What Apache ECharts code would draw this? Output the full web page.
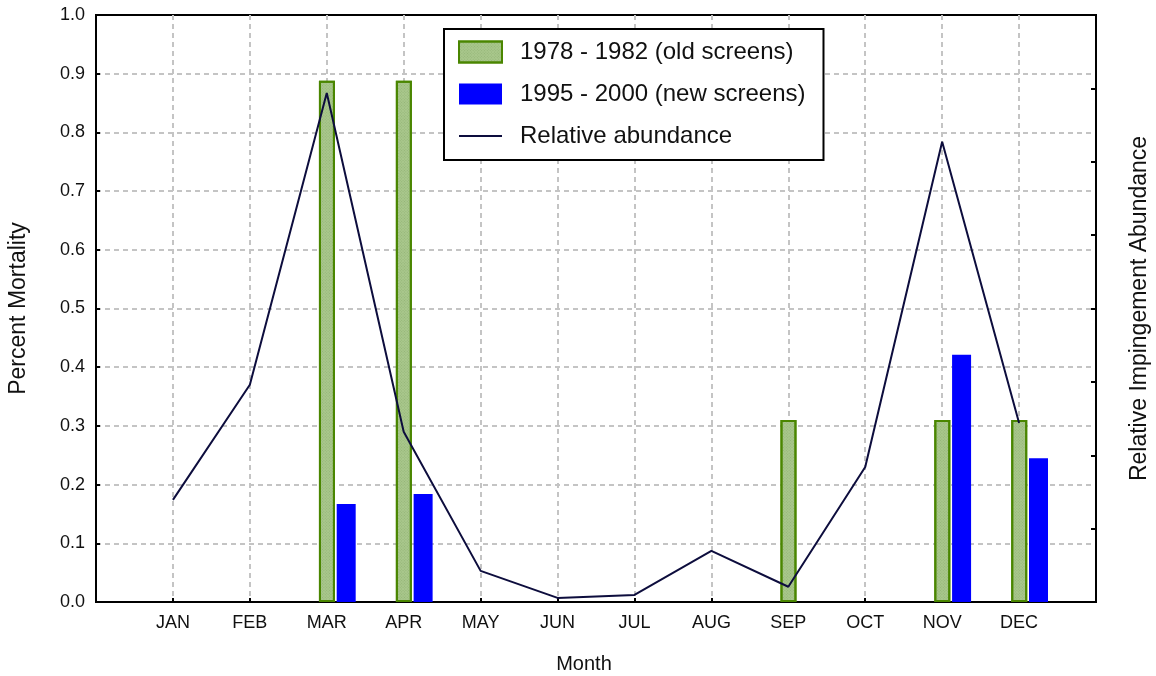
<!DOCTYPE html>
<html>
<head>
  <meta charset="utf-8">
  <title>Percent Mortality by Month</title>
  <script src="https://cdn.jsdelivr.net/npm/echarts@6/dist/echarts.min.js"></script>
  <style>
    html, body { margin: 0; padding: 0; background: #fff; }
    #chart { width: 1156px; height: 676px; }
  </style>
</head>
<body>
  <div id="chart"></div>
  <script>
    // blank slots at both ends give the padding around JAN and DEC
    var months = ['', 'JAN', 'FEB', 'MAR', 'APR', 'MAY', 'JUN', 'JUL', 'AUG', 'SEP', 'OCT', 'NOV', 'DEC', ''];
    var oldScreens = [null, null, null, 0.888, 0.888, null, null, null, null, 0.31, null, 0.31, 0.31, null];
    var newScreens = [null, null, null, 0.167, 0.184, null, null, null, null, null, null, 0.421, 0.245, null];
    var abundance = [null, 0.174, 0.37, 0.867, 0.29, 0.053, 0.007, 0.012, 0.087, 0.026, 0.23, 0.784, 0.305, null];

    var font = '"Liberation Sans", Arial, sans-serif';
    var chart = echarts.init(document.getElementById('chart'));

    chart.setOption({
      backgroundColor: '#ffffff',
      animation: false,
      grid: {
        left: 96, top: 15, right: 60, bottom: 74,
        outerBoundsMode: 'none',
        show: true, borderColor: '#000', borderWidth: 2
      },
      legend: {
        data: [
          { name: '1978 - 1982 (old screens)', icon: 'rect' },
          { name: '1995 - 2000 (new screens)', icon: 'rect' },
          // line icon only, hide the round marker
          { name: 'Relative abundance', itemStyle: { opacity: 0, color: 'rgba(0,0,0,0)', borderWidth: 0 } }
        ],
        orient: 'vertical',
        left: 444, top: 29,
        padding: [11, 18, 12, 14],
        itemWidth: 43, itemHeight: 21, itemGap: 18,
        backgroundColor: '#fff',
        borderColor: '#000', borderWidth: 2, borderRadius: 0,
        textStyle: { fontFamily: font, fontSize: 24, color: '#111', padding: [0, 0, 0, 13], lineHeight: 21 }
      },
      xAxis: {
        type: 'category',
        data: months,
        boundaryGap: false,
        name: 'Month',
        nameLocation: 'middle',
        nameGap: 52,
        nameTextStyle: { fontFamily: font, fontSize: 20, color: '#111', padding: [0, 24, 0, 0] },
        axisLine: { lineStyle: { color: '#000', width: 2 } },
        axisTick: { inside: true, length: 4, lineStyle: { color: '#000', width: 2 } },
        axisLabel: { fontFamily: font, fontSize: 18, color: '#111', margin: 12, interval: 0 },
        splitLine: { show: true, showMinLine: false, showMaxLine: false, lineStyle: { color: '#c4c4c4', width: 2, type: [5, 4] } }
      },
      yAxis: [{
        type: 'value',
        min: 0, max: 1, interval: 0.1,
        name: 'Percent Mortality',
        nameLocation: 'middle',
        nameGap: 66,
        nameRotate: 90,
        nameTextStyle: { fontFamily: font, fontSize: 23, color: '#111' },
        axisLine: { show: true, lineStyle: { color: '#000', width: 2 } },
        axisTick: { show: true, inside: true, length: 4, lineStyle: { color: '#000', width: 2 } },
        axisLabel: {
          fontFamily: font, fontSize: 18, color: '#111', margin: 11,
          formatter: function (v) { return v.toFixed(1); }
        },
        splitLine: { show: true, showMinLine: false, showMaxLine: false, lineStyle: { color: '#c4c4c4', width: 2, type: [5, 4] } }
      }, {
        type: 'value',
        min: 0, max: 1, interval: 0.125,
        position: 'right',
        name: 'Relative Impingement Abundance',
        nameLocation: 'middle',
        nameGap: 32,
        nameRotate: 90,
        nameTextStyle: { fontFamily: font, fontSize: 23, color: '#111' },
        axisLine: { show: true, lineStyle: { color: '#000', width: 2 } },
        axisTick: { show: true, inside: true, length: 5, lineStyle: { color: '#000', width: 2 } },
        axisLabel: { show: false },
        splitLine: { show: false }
      }],
      series: [{
        // empty slot so the old-screen bars sit on the tick
        name: 'pad',
        type: 'bar',
        data: [],
        barWidth: 19,
        barGap: '11%'
      }, {
        name: '1978 - 1982 (old screens)',
        type: 'bar',
        data: oldScreens,
        barWidth: 16,
        barGap: '11%',
        itemStyle: {
          color: '#a9c78c',
          borderColor: '#4a8600',
          borderWidth: 2,
          decal: {
            symbol: 'rect',
            symbolSize: 1,
            dashArrayX: [1, 1],
            dashArrayY: [1, 1],
            rotation: Math.PI / 4,
            color: 'rgba(110,150,80,0.35)'
          }
        },
        z: 3
      }, {
        name: '1995 - 2000 (new screens)',
        type: 'bar',
        data: newScreens,
        barWidth: 19,
        barGap: '11%',
        itemStyle: { color: '#0000ff' },
        z: 3
      }, {
        name: 'Relative abundance',
        type: 'line',
        yAxisIndex: 1,
        data: abundance,
        symbol: 'none',
        connectNulls: false,
        lineStyle: { color: '#0d0d3d', width: 2 },
        itemStyle: { color: '#0d0d3d' },
        z: 4
      }]
    });
  </script>
</body>
</html>
